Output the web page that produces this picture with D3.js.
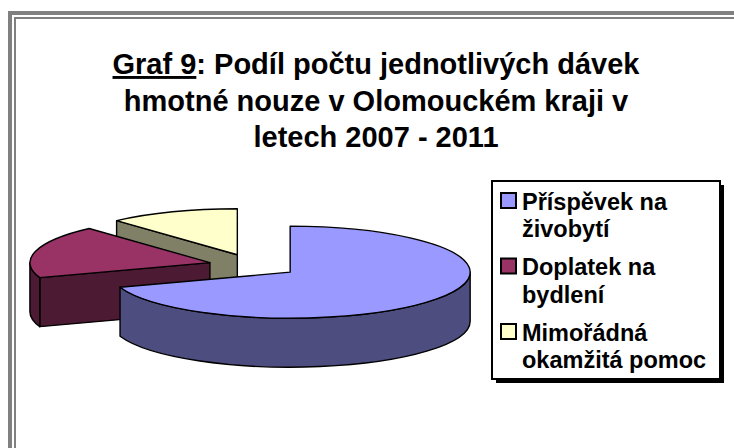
<!DOCTYPE html>
<html>
<head>
<meta charset="utf-8">
<script src="https://cdn.jsdelivr.net/npm/d3@7"></script>
<style>
  html, body { margin: 0; padding: 0; background: #fff; }
  svg { display: block; }
</style>
</head>
<body>
<div id="chart"></div>
<script>
// Data
const categories = ['Příspěvek na živobytí', 'Doplatek na bydlení', 'Mimořádná okamžitá pomoc'];
const legendLines = [['Příspěvek na', 'živobytí'], ['Doplatek na', 'bydlení'], ['Mimořádná', 'okamžitá pomoc']];
const shares = [69.7, 18.6, 11.7];
const titleLines = ['Podíl počtu jednotlivých dávek', 'hmotné nouze v Olomouckém kraji v', 'letech 2007 - 2011'];
const titlePrefix = 'Graf 9';

const width = 734, height = 448;

const svg = d3.select('#chart')
    .append('svg')
    .attr('width', width)
    .attr('height', height)
    .style('font-family', '"Liberation Sans", Arial, sans-serif');

// Gray double frame (top and left only visible)
svg.append('path')
    .attr('d', `M10,${height} V13 H${width}`)
    .attr('fill', 'none')
    .attr('stroke', '#808080')
    .attr('stroke-width', 4);
svg.append('path')
    .attr('d', `M15,${height} V18 H${width}`)
    .attr('fill', 'none')
    .attr('stroke', '#808080')
    .attr('stroke-width', 2);

// Title
const title = svg.append('g')
    .attr('font-weight', 'bold')
    .attr('font-size', 29)
    .attr('text-anchor', 'middle');

const t1 = title.append('text').attr('x', 376).attr('y', 74);
t1.append('tspan').attr('text-decoration', 'underline').text(titlePrefix);
t1.append('tspan').text(': ' + titleLines[0]);
title.append('text').attr('x', 376).attr('y', 110.5).text(titleLines[1]);
title.append('text').attr('x', 376).attr('y', 147).text(titleLines[2]);

// 3D pie
const color = d3.scaleOrdinal()
    .domain(categories)
    .range(['#9999FF', '#993366', '#FFFFCC']);

const shade = (c, k) => {
    const r = d3.rgb(c);
    return d3.rgb(r.r * k, r.g * k, r.b * k).formatHex();
};

const cx0 = 253.5, cy0 = 265.5;
const rx = 180, ry = 46, depth = 49;
const explode = 45;

const arcs = d3.pie().sort(null).value(d => d)(shares)
    .map((a, i) => {
        const ts = a.startAngle - Math.PI / 2;
        const te = a.endAngle - Math.PI / 2;
        const mid = (ts + te) / 2;
        return {
            i, ts, te, mid,
            cx: cx0 + explode * Math.cos(mid),
            cy: cy0 + explode * (ry / rx) * Math.sin(mid)
        };
    })
    .sort((a, b) => Math.sin(a.mid) - Math.sin(b.mid));

const pieG = svg.append('g')
    .attr('stroke', '#000')
    .attr('stroke-width', 1.4)
    .attr('stroke-linejoin', 'round');

arcs.forEach(d => {
    const p = (t, dy = 0) => [d.cx + rx * Math.cos(t), d.cy + ry * Math.sin(t) + dy];
    const top = color(categories[d.i]);
    const side = shade(top, 0.5);
    const g = pieG.append('g');

    // radial walls facing the viewer
    const wall = t => {
        const a = p(t), b = p(t, depth);
        return `M${d.cx},${d.cy} L${a} L${b} L${d.cx},${d.cy + depth} Z`;
    };
    if (Math.cos(d.ts) < -0.01) g.append('path').attr('d', wall(d.ts)).attr('fill', side);
    if (Math.cos(d.te) > 0.01) g.append('path').attr('d', wall(d.te)).attr('fill', side);

    // outer curved side (front half only)
    const s1 = Math.max(d.ts, 0), s2 = Math.min(d.te, Math.PI);
    if (s2 > s1) {
        g.append('path')
            .attr('d', `M${p(s1)} A${rx},${ry} 0 0 1 ${p(s2)} L${p(s2, depth)} A${rx},${ry} 0 0 0 ${p(s1, depth)} Z`)
            .attr('fill', side);
    }

    // top face
    const large = (d.te - d.ts) > Math.PI ? 1 : 0;
    g.append('path')
        .attr('d', `M${d.cx},${d.cy} L${p(d.ts)} A${rx},${ry} 0 ${large} 1 ${p(d.te)} Z`)
        .attr('fill', top);
});

// Legend
const legend = svg.append('g');
legend.append('rect')
    .attr('x', 496).attr('y', 185)
    .attr('width', 228).attr('height', 198)
    .attr('fill', '#000');
legend.append('rect')
    .attr('x', 492).attr('y', 181)
    .attr('width', 228).attr('height', 198)
    .attr('fill', '#fff')
    .attr('stroke', '#000')
    .attr('stroke-width', 2);

const legendY = d3.scalePoint()
    .domain(categories)
    .range([209.5, 340.5]);

const item = legend.selectAll('g.item')
    .data(categories)
    .enter().append('g')
    .attr('class', 'item')
    .attr('transform', d => `translate(0,${legendY(d)})`);

item.append('rect')
    .attr('x', 501).attr('y', -16.5)
    .attr('width', 15).attr('height', 15)
    .attr('fill', d => color(d))
    .attr('stroke', '#000')
    .attr('stroke-width', 2);

item.append('text')
    .attr('font-weight', 'bold')
    .attr('font-size', 23.5)
    .selectAll('tspan')
    .data((d, i) => legendLines[i])
    .enter().append('tspan')
    .attr('x', 522)
    .attr('y', (d, j) => j * 27.5)
    .text(d => d);
</script>
</body>
</html>
